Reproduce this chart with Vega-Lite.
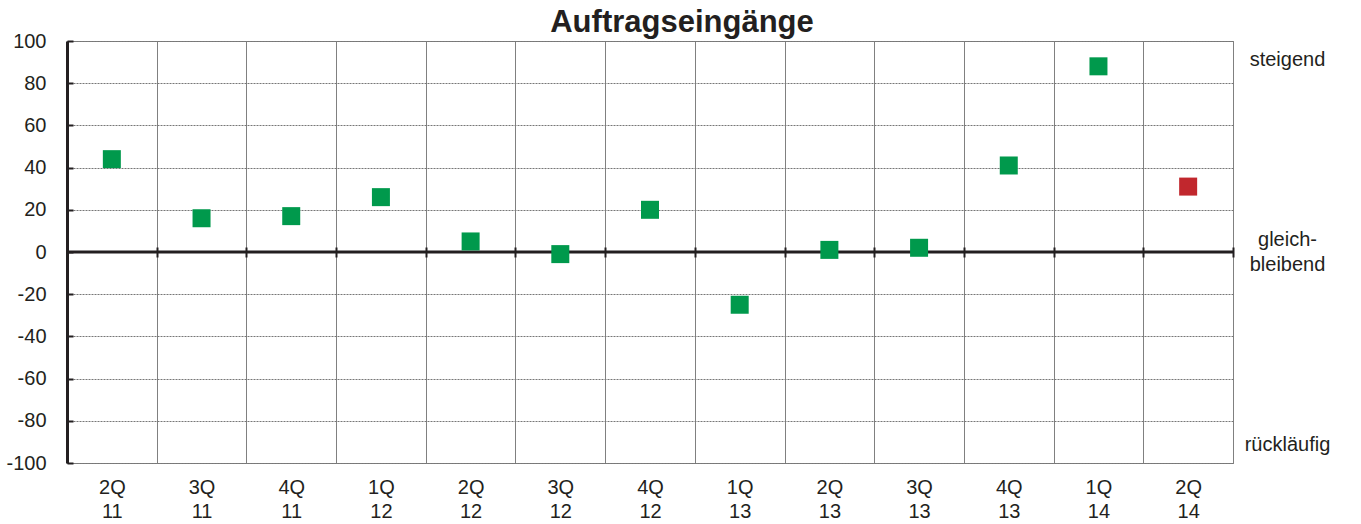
{
  "$schema": "https://vega.github.io/schema/vega-lite/v6.json",
  "width": 1166,
  "height": 422,
  "autosize": {"type": "none"},
  "padding": {"left": 67, "top": 41, "right": 128, "bottom": 61},
  "background": "white",
  "title": {"text": "Auftragseingänge", "fontSize": 31, "font": "Liberation Sans", "fontWeight": "bold", "color": "#231f20", "anchor": "middle", "dx": 32, "offset": -8},
  "config": {
    "view": {"stroke": "#808080", "strokeWidth": 1},
    "axis": {"labelFont": "Liberation Sans", "labelFontSize": 20, "labelColor": "#231f20", "titleFont": "Liberation Sans"}
  },
  "datasets": {
    "orders": [
      {"q": "2Q 11", "v": 44, "s": "ist"},
      {"q": "3Q 11", "v": 16, "s": "ist"},
      {"q": "4Q 11", "v": 17, "s": "ist"},
      {"q": "1Q 12", "v": 26, "s": "ist"},
      {"q": "2Q 12", "v": 5, "s": "ist"},
      {"q": "3Q 12", "v": -1, "s": "ist"},
      {"q": "4Q 12", "v": 20, "s": "ist"},
      {"q": "1Q 13", "v": -25, "s": "ist"},
      {"q": "2Q 13", "v": 1, "s": "ist"},
      {"q": "3Q 13", "v": 2, "s": "ist"},
      {"q": "4Q 13", "v": 41, "s": "ist"},
      {"q": "1Q 14", "v": 88, "s": "ist"},
      {"q": "2Q 14", "v": 31, "s": "erwartet"}
    ],
    "zero": [{"z": 0}]
  },
  "resolve": {"axis": {"x": "independent", "y": "independent"}},
  "layer": [
    {
      "data": {"name": "zero"},
      "mark": {"type": "rule", "color": "#231f20", "strokeWidth": 3},
      "encoding": {
        "y": {
          "field": "z", "type": "quantitative",
          "axis": {
            "orient": "right", "title": null, "values": [91, 6, -91],
            "labelExpr": "datum.value == 91 ? 'steigend' : (datum.value == 6 ? ['gleich-', 'bleibend'] : 'rückläufig')",
            "domain": false, "ticks": false, "grid": false,
            "labelAlign": "center", "labelPadding": 54, "labelLineHeight": 25, "labelFontSize": 20
          }
        }
      }
    },
    {
      "data": {"name": "orders"},
      "mark": {"type": "point", "opacity": 0},
      "encoding": {
        "x": {
          "field": "q", "type": "nominal", "sort": null,
          "axis": {
            "orient": "top", "offset": -216, "title": null, "labels": false, "domain": false, "grid": false,
            "ticks": true, "tickBand": "extent", "tickSize": 10, "tickWidth": 2, "tickColor": "#231f20"
          }
        }
      }
    },
    {
      "data": {"name": "orders"},
      "mark": {"type": "point", "shape": "square", "filled": true, "size": 324, "opacity": 1},
      "encoding": {
        "x": {
          "field": "q", "type": "nominal", "sort": null,
          "scale": {"paddingInner": 0, "paddingOuter": 0},
          "axis": {
            "orient": "bottom", "title": null, "labelAngle": 0,
            "labelExpr": "split(datum.label, ' ')",
            "ticks": false, "domain": false, "grid": true, "tickBand": "extent",
            "gridColor": "#808080", "gridWidth": 1,
            "labelPadding": 14, "labelLineHeight": 24, "labelBaseline": "top"
          }
        },
        "y": {
          "field": "v", "type": "quantitative",
          "scale": {"domain": [-100, 100], "nice": false, "zero": false},
          "axis": {
            "orient": "left", "title": null,
            "values": [-100, -80, -60, -40, -20, 0, 20, 40, 60, 80, 100],
            "labelExpr": "'' + datum.value",
            "grid": true, "gridColor": "#777777", "gridDash": [2, 1], "gridWidth": 1,
            "domain": true, "domainColor": "#231f20", "domainWidth": 3,
            "ticks": true, "tickColor": "#231f20", "tickSize": -6, "tickWidth": 2,
            "labelPadding": 27
          }
        },
        "color": {
          "field": "s", "type": "nominal",
          "scale": {"domain": ["ist", "erwartet"], "range": ["#00994c", "#c1272d"]},
          "legend": null
        }
      }
    }
  ]
}
